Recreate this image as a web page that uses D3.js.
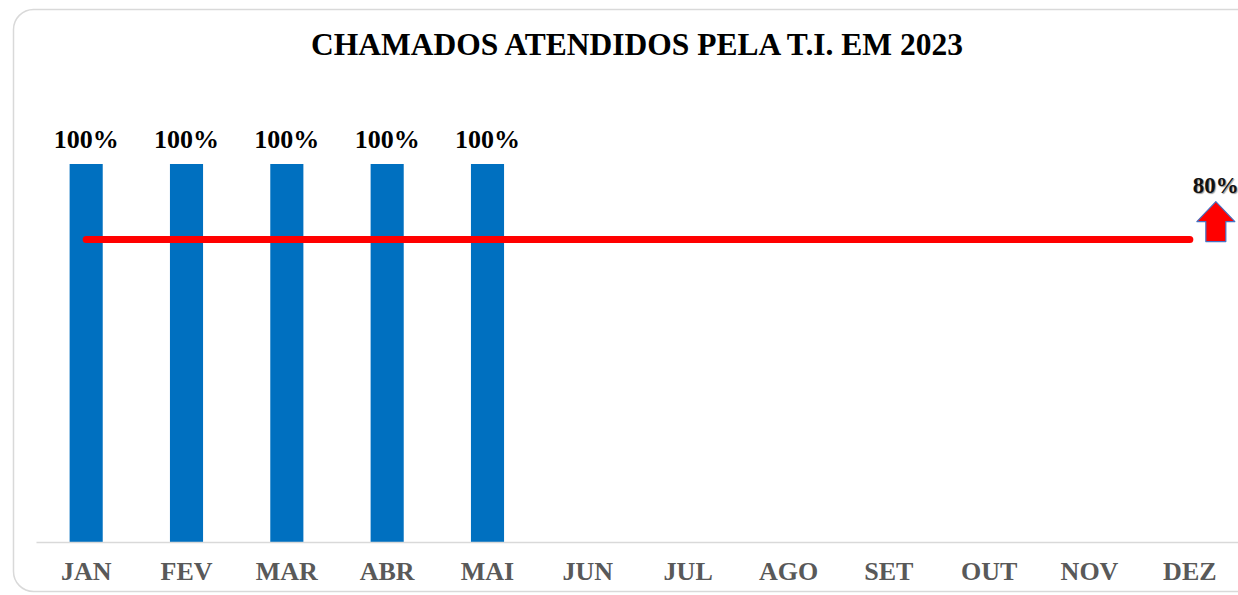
<!DOCTYPE html>
<html lang="pt">

<head>
  <meta charset="UTF-8">
  <title>Chamados atendidos pela T.I. em 2023</title>
  <script src="https://d3js.org/d3.v7.min.js"></script>
  <style>
    body { margin: 0; background: #fff; overflow: hidden; }
    svg { display: block; font-family: "Liberation Serif", "Times New Roman", serif; }
  </style>
</head>

<body>
  <div id="chart"></div>

  <script>
    // dados
    const months = ["JAN", "FEV", "MAR", "ABR", "MAI", "JUN", "JUL", "AGO", "SET", "OUT", "NOV", "DEZ"];
    const attended = [1, 1, 1, 1, 1, null, null, null, null, null, null, null];
    const goal = [0.8, 0.8, 0.8, 0.8, 0.8, 0.8, 0.8, 0.8, 0.8, 0.8, 0.8, 0.8];
    const goalLabel = "80%";
    const title = "CHAMADOS ATENDIDOS PELA T.I. EM 2023";

    const W = 1238, H = 595;
    const plot = { left: 36, right: 1240, top: 164, bottom: 542 };

    const svg = d3.select("#chart").append("svg")
      .attr("width", W)
      .attr("height", H);

    // moldura arredondada
    svg.append("rect")
      .attr("x", 13.5)
      .attr("y", 9.5)
      .attr("width", 1300)
      .attr("height", 582)
      .attr("rx", 20)
      .attr("fill", "#fff")
      .attr("stroke", "#d9d9d9")
      .attr("stroke-width", 1.5);

    // titulo
    svg.append("text")
      .attr("x", 637)
      .attr("y", 55)
      .attr("text-anchor", "middle")
      .attr("font-size", "31.5px")
      .attr("font-weight", "bold")
      .attr("fill", "#000")
      .text(title);

    //scales
    const x = d3.scaleBand()
      .domain(months)
      .range([plot.left, plot.right])
      .paddingInner(0.67)
      .paddingOuter(0.335);
    const y = d3.scaleLinear()
      .domain([0, 1])
      .range([plot.bottom, plot.top]);

    const data = months.map((m, i) => ({ month: m, value: attended[i], goal: goal[i] }));

    //bars
    svg.selectAll(".bar")
      .data(data.filter(d => d.value != null))
      .enter().append("rect")
      .attr("class", "bar")
      .attr("x", d => x(d.month))
      .attr("y", d => y(d.value))
      .attr("width", x.bandwidth())
      .attr("height", d => y(0) - y(d.value))
      .attr("fill", "#0070C0");

    //rotulos das barras
    svg.selectAll(".bar-label")
      .data(data.filter(d => d.value != null))
      .enter().append("text")
      .attr("class", "bar-label")
      .attr("x", d => x(d.month) + x.bandwidth() / 2)
      .attr("y", d => y(d.value) - 16)
      .attr("text-anchor", "middle")
      .attr("font-size", "26px")
      .attr("font-weight", "bold")
      .attr("fill", "#000")
      .text(d => d3.format(".0%")(d.value));

    //eixo x
    const xAxis = svg.append("g")
      .attr("transform", `translate(0,${plot.bottom})`)
      .call(d3.axisBottom(x).tickSize(0).tickPadding(33));
    xAxis.select(".domain")
      .attr("stroke", "#d9d9d9")
      .attr("stroke-width", 1.5);
    xAxis.selectAll("text")
      .attr("font-family", "Liberation Serif, Times New Roman, serif")
      .attr("font-size", "26px")
      .attr("font-weight", "bold")
      .attr("fill", "#595959")
      .attr("dy", "0.2em");

    //linha da meta
    const line = d3.line()
      .x(d => x(d.month) + x.bandwidth() / 2)
      .y(d => y(d.goal));
    svg.append("path")
      .datum(data)
      .attr("d", line)
      .attr("fill", "none")
      .attr("stroke", "#FF0000")
      .attr("stroke-width", 7)
      .attr("stroke-linecap", "round");

    //seta da meta
    const last = data[data.length - 1];
    const ax = x(last.month) + x.bandwidth() / 2 + 26;
    const ab = y(last.goal) + 2;
    const arrow = [
      [ax, ab - 40], [ax + 19, ab - 20], [ax + 10, ab - 20], [ax + 10, ab],
      [ax - 10, ab], [ax - 10, ab - 20], [ax - 19, ab - 20]
    ];
    svg.append("path")
      .attr("d", "M" + arrow.join("L") + "Z")
      .attr("fill", "#FF0000")
      .attr("stroke", "#4472C4")
      .attr("stroke-width", 1.2)
      .attr("stroke-linejoin", "round");
    svg.append("text")
      .attr("x", ax)
      .attr("y", ab - 49)
      .attr("text-anchor", "middle")
      .attr("font-size", "23px")
      .attr("font-weight", "bold")
      .attr("fill", "#111")
      .style("text-shadow", "1px 1px 1px #999")
      .text(goalLabel);
  </script>
</body>

</html>
